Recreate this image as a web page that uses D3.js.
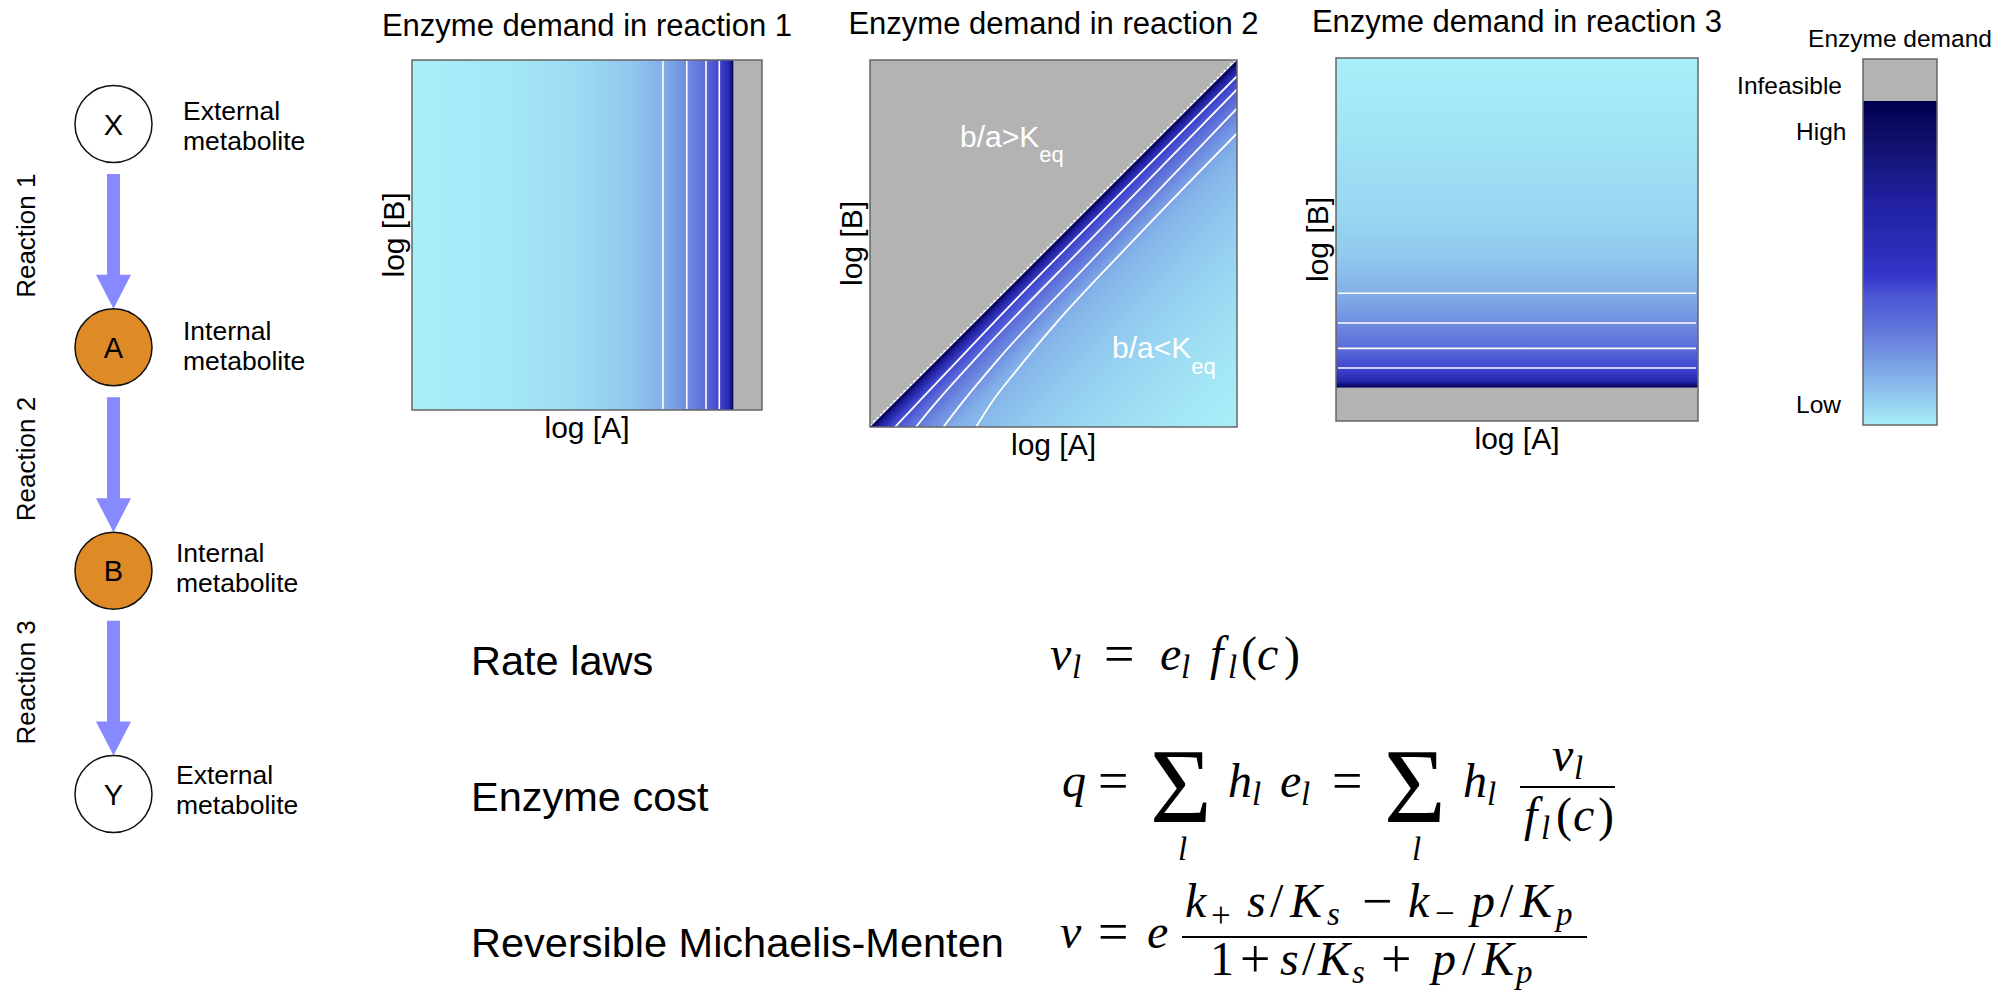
<!DOCTYPE html>
<html>
<head>
<meta charset="utf-8">
<script src="https://cdn.jsdelivr.net/npm/d3@7"></script>
<style>
  body { margin: 0; background: #fff; }
  svg { display: block; }
  text { font-family: "Liberation Sans", Arial, Helvetica, sans-serif; fill: #000; }
</style>
</head>
<body>
<svg id="fig"></svg>
<script>
const W = 2007, H = 992;

// pathway X -> A -> B -> Y
const nodeIds = ["X", "A", "B", "Y"];
const nodeKinds = ["External", "Internal", "Internal", "External"];
const reactionNames = ["Reaction 1", "Reaction 2", "Reaction 3"];
const panelTitles = ["Enzyme demand in reaction 1", "Enzyme demand in reaction 2", "Enzyme demand in reaction 3"];

// enzyme demand colour map (0 = low, 1 = high)
const demandLevels = [0, 0.09, 0.19, 0.29, 0.40, 0.46, 0.55, 0.70, 0.86, 1];
const demandColors = ["#a8eff8", "#90c8ee", "#78a0e4", "#6478dc", "#4a55d4", "#3535cc", "#2c2cb8", "#2020a0", "#121270", "#000050"];
const infeasibleColor = "#b3b3b3";
const contourLevels = [0.15, 0.24, 0.33, 0.43];

// reaction 1: demand only depends on log[A] (0..1 across the panel)
const r1LogA   = [0, 0.3, 0.5, 0.62, 0.717, 0.785, 0.84, 0.878, 0.905, 0.919];
const r1Demand = [0, 0.02, 0.05, 0.09, 0.15, 0.24, 0.33, 0.43, 0.6, 1];
const r1Limit = 0.919;      // log[A] beyond this is infeasible

// reaction 3: demand only depends on log[B]
const r3LogB   = [1, 0.75, 0.55, 0.45, 0.352, 0.27, 0.2, 0.146, 0.11, 0.0915];
const r3Demand = [0, 0.03, 0.06, 0.09, 0.15, 0.24, 0.33, 0.43, 0.62, 1];
const r3Limit = 0.0915;     // log[B] below this is infeasible

// reaction 2: demand against distance below the line b/a = Keq (log a - log b)
const r2Dist   = [0, 0.02, 0.055, 0.1, 0.16, 0.23, 0.4, 0.6, 0.8, 1];
const r2Demand = [1, 0.72, 0.43, 0.33, 0.24, 0.15, 0.09, 0.05, 0.02, 0];
// reaction 2 contour lines, points as [log a, log b]
const r2Contours = [
  [[0.068, 0], [0.12, 0.055], [0.4, 0.35], [0.7, 0.654], [1, 0.956]],
  [[0.125, 0], [0.17, 0.055], [0.3, 0.2], [0.6, 0.51], [1, 0.92]],
  [[0.2, 0], [0.25, 0.065], [0.35, 0.185], [0.6, 0.45], [1, 0.868]],
  [[0.289, 0], [0.33, 0.065], [0.4, 0.155], [0.5, 0.275], [0.7, 0.49], [1, 0.8]]
];

const svg = d3.select("#fig").attr("width", W).attr("height", H);
svg.append("rect").attr("width", W).attr("height", H).attr("fill", "#fff");
const defs = svg.append("defs");

const demandColor = d3.scaleLinear().domain(demandLevels).range(demandColors).interpolate(d3.interpolateRgb);

// panel boxes
const panels = [
  {x: 412, y: 60, w: 350, h: 350},
  {x: 870, y: 60, w: 367, h: 367},
  {x: 1336, y: 58, w: 362, h: 363}
];
function frame(i) {
  const p = panels[i];
  return {p: p, x: d3.scaleLinear([0, 1], [p.x, p.x + p.w]), y: d3.scaleLinear([0, 1], [p.y + p.h, p.y])};
}
function gradient(id, x1, y1, x2, y2, offsets, levels) {
  const g = defs.append("linearGradient").attr("id", id).attr("gradientUnits", "userSpaceOnUse")
    .attr("x1", x1).attr("y1", y1).attr("x2", x2).attr("y2", y2);
  const stops = offsets.map((o, i) => ({o: o, c: demandColor(levels[i])})).sort((a, b) => a.o - b.o);
  g.selectAll("stop").data(stops).enter().append("stop")
    .attr("offset", d => d.o).attr("stop-color", d => d.c);
}
function labels(i) {
  const f = frame(i), p = f.p;
  svg.append("text").attr("x", p.x + p.w / 2).attr("y", p.y - 26 + (i === 0 ? 2 : 0))
    .attr("text-anchor", "middle").style("font-size", "31px").text(panelTitles[i]);
  svg.append("text").attr("x", p.x + p.w / 2).attr("y", p.y + p.h + 28)
    .attr("text-anchor", "middle").style("font-size", "30px").text("log [A]");
  svg.append("text").attr("transform", `translate(${p.x - 8},${p.y + p.h / 2}) rotate(-90)`)
    .attr("text-anchor", "middle").style("font-size", "30px").text("log [B]");
}
function border(i) {
  const p = panels[i];
  svg.append("rect").attr("x", p.x).attr("y", p.y).attr("width", p.w).attr("height", p.h)
    .attr("fill", "none").attr("stroke", "#666").attr("stroke-width", 1.5);
}

// ---- panel 1
{
  const f = frame(0);
  gradient("g1", f.x(0), 0, f.x(1), 0, r1LogA, r1Demand);
  svg.append("rect").attr("x", f.x(0)).attr("y", f.y(1)).attr("width", f.x(r1Limit) - f.x(0)).attr("height", f.y(0) - f.y(1)).attr("fill", "url(#g1)");
  svg.append("rect").attr("x", f.x(r1Limit)).attr("y", f.y(1)).attr("width", f.x(1) - f.x(r1Limit)).attr("height", f.y(0) - f.y(1)).attr("fill", infeasibleColor);
  const where = d3.scaleLinear().domain(r1Demand).range(r1LogA);
  svg.selectAll(".c1").data(contourLevels).enter().append("line")
    .attr("x1", d => f.x(where(d))).attr("x2", d => f.x(where(d)))
    .attr("y1", f.y(0) - 1).attr("y2", f.y(1) + 1)
    .attr("stroke", "#fff").attr("stroke-width", 1.6);
  border(0); labels(0);
}

// ---- panel 2
{
  const f = frame(1);
  gradient("g2", f.x(0.5), f.y(0.5), f.x(1), f.y(0), r2Dist, r2Demand);
  svg.append("path").attr("d", d3.line()([[0, 0], [1, 0], [1, 1]].map(d => [f.x(d[0]), f.y(d[1])])) + "Z").attr("fill", "url(#g2)");
  const cp = defs.append("clipPath").attr("id", "clip2");
  cp.append("rect").attr("x", f.p.x).attr("y", f.p.y).attr("width", f.p.w).attr("height", f.p.h);
  const line = d3.line().x(d => f.x(d[0])).y(d => f.y(d[1])).curve(d3.curveMonotoneX);
  svg.append("g").attr("clip-path", "url(#clip2)").selectAll("path").data(r2Contours).enter().append("path")
    .attr("d", line).attr("fill", "none").attr("stroke", "#fff").attr("stroke-width", 1.8);
  // infeasible region, drawn with the stepped edge of the grid
  const steps = d3.range(0, 111).map(k => [k / 110, k / 110]);
  const stair = d3.line().x(d => f.x(d[0])).y(d => f.y(d[1])).curve(d3.curveStepBefore);
  svg.append("path").attr("d", stair(steps.concat([[0, 1]])) + "Z").attr("fill", infeasibleColor);
  const t1 = svg.append("text").attr("x", 960).attr("y", 147).style("fill", "#fff").style("font-size", "30px");
  t1.append("tspan").text("b/a>K");
  t1.append("tspan").attr("dy", 15).style("font-size", "22px").text("eq");
  const t2 = svg.append("text").attr("x", 1112).attr("y", 358).style("fill", "#fff").style("font-size", "30px");
  t2.append("tspan").text("b/a<K");
  t2.append("tspan").attr("dy", 16).style("font-size", "22px").text("eq");
  border(1); labels(1);
}

// ---- panel 3
{
  const f = frame(2);
  gradient("g3", 0, f.y(0), 0, f.y(1), r3LogB, r3Demand);
  svg.append("rect").attr("x", f.x(0)).attr("y", f.y(1)).attr("width", f.x(1) - f.x(0)).attr("height", f.y(r3Limit) - f.y(1)).attr("fill", "url(#g3)");
  svg.append("rect").attr("x", f.x(0)).attr("y", f.y(r3Limit)).attr("width", f.x(1) - f.x(0)).attr("height", f.y(0) - f.y(r3Limit)).attr("fill", infeasibleColor);
  const where = d3.scaleLinear().domain(r3Demand).range(r3LogB);
  svg.selectAll(".c3").data(contourLevels).enter().append("line")
    .attr("y1", d => f.y(where(d))).attr("y2", d => f.y(where(d)))
    .attr("x1", f.x(0) + 2).attr("x2", f.x(1) - 2)
    .attr("stroke", "#fff").attr("stroke-width", 1.6);
  border(2); labels(2);
}

// ---- colour bar
{
  const cb = {x: 1863, y: 59, w: 74, h: 366, top: 42};
  const cy = d3.scaleLinear([0, 1], [cb.y + cb.h, cb.y + cb.top]);
  gradient("gcb", 0, cy(0), 0, cy(1), demandLevels, demandLevels);
  svg.append("rect").attr("x", cb.x).attr("y", cb.y).attr("width", cb.w).attr("height", cb.top).attr("fill", infeasibleColor);
  svg.append("rect").attr("x", cb.x).attr("y", cy(1)).attr("width", cb.w).attr("height", cy(0) - cy(1)).attr("fill", "url(#gcb)");
  svg.append("rect").attr("x", cb.x).attr("y", cb.y).attr("width", cb.w).attr("height", cb.h)
    .attr("fill", "none").attr("stroke", "#666").attr("stroke-width", 1.5);
  svg.append("text").attr("x", cb.x + cb.w / 2).attr("y", 47).attr("text-anchor", "middle").style("font-size", "24.5px").text("Enzyme demand");
  svg.append("text").attr("x", 1842).attr("y", 94).attr("text-anchor", "end").style("font-size", "24.5px").text("Infeasible");
  svg.append("text").attr("x", 1796).attr("y", 140).style("font-size", "24.5px").text("High");
  svg.append("text").attr("x", 1796).attr("y", 413).style("font-size", "24.5px").text("Low");
}

// ---- pathway diagram
{
  const cx = 113.5, r = 38.5;
  const ny = d3.scalePoint().domain(nodeIds).range([124, 794]);
  const labelX = [183, 183, 176, 176];
  const labelY = [-4, -7, -9, -10];
  const g = svg.append("g");
  // arrows
  reactionNames.forEach((name, i) => {
    const y1 = ny(nodeIds[i]) + 50, y2 = ny(nodeIds[i + 1]) - r;
    const hl = 34, sw = 6.5, hw = 17.5;
    g.append("path").attr("fill", "#8888ff")
      .attr("d", d3.line()([[cx - sw, y1], [cx + sw, y1], [cx + sw, y2 - hl], [cx + hw, y2 - hl], [cx, y2],
        [cx - hw, y2 - hl], [cx - sw, y2 - hl]]) + "Z");
    g.append("text").attr("transform", `translate(35,${(ny(nodeIds[i]) + ny(nodeIds[i + 1])) / 2}) rotate(-90)`)
      .attr("text-anchor", "middle").style("font-size", "26px").text(name);
  });
  nodeIds.forEach((id, i) => {
    const y = ny(id);
    g.append("circle").attr("cx", cx).attr("cy", y).attr("r", r)
      .attr("fill", nodeKinds[i] === "Internal" ? "#dd8a27" : "#fff").attr("stroke", "#111").attr("stroke-width", 1.5);
    g.append("text").attr("x", cx).attr("y", y + 10.5).attr("text-anchor", "middle").style("font-size", "29px").text(id);
    g.append("text").attr("x", labelX[i]).attr("y", y + labelY[i]).style("font-size", "26.5px").text(nodeKinds[i]);
    g.append("text").attr("x", labelX[i]).attr("y", y + labelY[i] + 30).style("font-size", "26.5px").text("metabolite");
  });
}

// ---- equations
svg.append("text").attr("x", 471).attr("y", 675).style("font-size", "41.5px").text("Rate laws");
svg.append("text").attr("x", 471).attr("y", 811).style("font-size", "41.5px").text("Enzyme cost");
svg.append("text").attr("x", 471).attr("y", 957).style("font-size", "41.5px").text("Reversible Michaelis-Menten");

const serif = '"Liberation Serif", "Times New Roman", serif';
const eqSize = {i: 48, r: 48, op: 54, si: 33, sr: 35, big: 106};
function glyphs(list) {
  list.forEach(([t, x, y, k]) => {
    svg.append("text").attr("x", x).attr("y", y).text(t)
      .style("font-family", serif).style("font-size", eqSize[k] + "px")
      .style("font-style", (k === "i" || k === "si") ? "italic" : "normal");
  });
}
// summation sign with its index underneath, kept as one text element
function sum(x, y) {
  const t = svg.append("text").style("font-family", serif);
  t.append("tspan").attr("x", x).attr("y", y).style("font-size", eqSize.big + "px").text("\u03A3");
  t.append("tspan").attr("x", x + 28).attr("y", y + 38).style("font-size", eqSize.si + "px").style("font-style", "italic").text("l");
}
function bar(x1, x2, y) {
  svg.append("line").attr("x1", x1).attr("x2", x2).attr("y1", y).attr("y2", y).attr("stroke", "#000").attr("stroke-width", 2);
}
glyphs([
  ["v", 1050, 670, "i"], ["l", 1072, 678, "si"], ["=", 1104, 672, "op"],
  ["e", 1160, 670, "i"], ["l", 1181, 678, "si"], ["f", 1210, 670, "i"], ["l", 1228, 678, "si"],
  ["(", 1241, 670, "r"], ["c", 1257, 670, "i"], [")", 1284, 670, "r"]
]);
sum(1150, 822);
sum(1384, 822);
glyphs([
  ["q", 1062, 797, "i"], ["=", 1098, 799, "op"],
  ["h", 1228, 797, "i"], ["l", 1252, 805, "si"], ["e", 1280, 797, "i"], ["l", 1301, 805, "si"],
  ["=", 1332, 799, "op"],
  ["h", 1463, 797, "i"], ["l", 1487, 805, "si"],
  ["v", 1552, 771, "i"], ["l", 1574, 779, "si"],
  ["f", 1524, 831, "i"], ["l", 1541, 839, "si"], ["(", 1556, 831, "r"], ["c", 1573, 831, "i"], [")", 1598, 831, "r"]
]);
bar(1520, 1615, 787);
glyphs([
  ["v", 1060, 948, "i"], ["=", 1098, 950, "op"], ["e", 1147, 948, "i"],
  ["k", 1185, 917, "i"], ["+", 1211, 927, "sr"], ["s", 1247, 917, "i"], ["/", 1270, 917, "r"],
  ["K", 1290, 917, "i"], ["s", 1327, 925, "si"], ["\u2212", 1362, 919, "op"],
  ["k", 1408, 917, "i"], ["\u2212", 1435, 925, "sr"], ["p", 1471, 917, "i"], ["/", 1500, 917, "r"],
  ["K", 1520, 917, "i"], ["p", 1556, 925, "si"],
  ["1", 1210, 975, "r"], ["+", 1240, 977, "op"], ["s", 1280, 975, "i"], ["/", 1302, 975, "r"],
  ["K", 1318, 975, "i"], ["s", 1352, 983, "si"], ["+", 1381, 977, "op"], ["p", 1432, 975, "i"],
  ["/", 1462, 975, "r"], ["K", 1482, 975, "i"], ["p", 1516, 983, "si"]
]);
bar(1182, 1587, 937);
</script>
</body>
</html>
